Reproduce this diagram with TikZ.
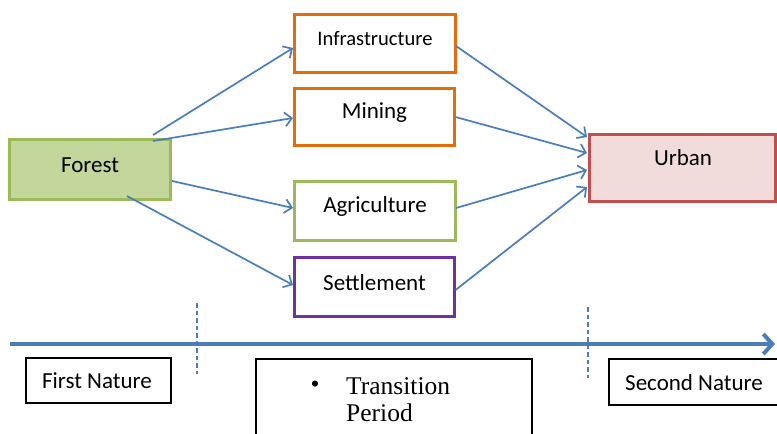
\documentclass[tikz,border=0pt]{standalone}
\usepackage{fontspec}
\setmainfont{Carlito}
\newfontfamily\timesf{Liberation Serif}
\usetikzlibrary{arrows.meta,calc}
\definecolor{lineblue}{HTML}{4A7EBB}
\definecolor{forestfill}{HTML}{C3D69B}
\definecolor{forestdraw}{HTML}{9BBB59}
\definecolor{orangedraw}{HTML}{E46C0A}
\definecolor{purpledraw}{HTML}{7030A0}
\definecolor{urbanfill}{HTML}{F2DCDB}
\definecolor{urbandraw}{HTML}{C0504D}
\tikzset{
  box/.style={rectangle, line width=3pt, inner sep=0pt, fill=white},
  lbl/.style={inner sep=0pt, font=\fontsize{23}{27}\selectfont},
  conn/.style={draw=lineblue, line width=1.7pt, -{Straight Barb[length=7pt,width=14pt,line width=1.7pt]}},
  tick/.style={draw=lineblue, line width=1.3pt, dash pattern=on 4.5pt off 3pt},
  plain/.style={rectangle, draw=black, line width=1.2pt, inner sep=0pt, fill=white}
}
\begin{document}
\begin{tikzpicture}[x=1pt,y=-1pt]
\useasboundingbox (0,0) rectangle (777,434);
\clip (0,0) rectangle (777,434);
% boxes
\node[box, draw=forestdraw, fill=forestfill, minimum width=161pt, minimum height=60pt] (forest) at (90,169.5) {};
\node[lbl] (forestt) at (90,165) {Forest};
\node[box, draw=orangedraw, minimum width=161pt, minimum height=58pt] (infra) at (375,43.5) {};
\node[lbl, font=\fontsize{20.6}{24}\selectfont] (infrat) at (375,39) {Infrastructure};
\node[box, draw=orangedraw, minimum width=160pt, minimum height=57pt] (mining) at (374.5,117) {};
\node[lbl] (miningt) at (374.5,113) {Mining};
\node[box, draw=forestdraw, minimum width=161pt, minimum height=59pt] (agri) at (375,211) {};
\node[lbl] (agrit) at (375,206.5) {Agriculture};
\node[box, draw=purpledraw, minimum width=160pt, minimum height=59pt] (settle) at (374.5,287) {};
\node[lbl] (settlet) at (374.5,282.5) {Settlement};
\node[box, draw=urbandraw, fill=urbanfill, minimum width=186pt, minimum height=67pt] (urban) at (682,168) {};
\node[lbl] (urbant) at (683,158) {Urban};
% connectors forest -> sectors
\draw[conn] ($(forest.center)+(63,-34.5)$) -- ($(infra.center)+(-82,4.5)$);
\draw[conn] ($(forest.center)+(63,-28.5)$) -- ($(mining.center)+(-81.5,1)$);
\draw[conn] ($(forest.center)+(82,11.5)$) -- ($(agri.center)+(-82,-3)$);
\draw[conn] ($(forest.center)+(37,26.5)$) -- ($(settle.center)+(-81.5,-2)$);
% sectors -> urban
\draw[conn] ($(infra.center)+(81,2.5)$) -- ($(urban.center)+(-95,-31)$);
\draw[conn] ($(mining.center)+(81,0)$) -- ($(urban.center)+(-95,-15)$);
\draw[conn] ($(agri.center)+(81,-3)$) -- ($(urban.center)+(-95,2)$);
\draw[conn] ($(settle.center)+(81,3)$) -- ($(urban.center)+(-95,19)$);
% timeline
\coordinate (tl0) at (10,344);
\coordinate (tl1) at (775,344);
\draw[draw=lineblue, line width=4pt, -{Straight Barb[length=9pt,width=20pt,line width=4pt]}] (tl0) -- (tl1);
\coordinate (d1a) at (197,303);
\coordinate (d1b) at (197,374);
\coordinate (d2a) at (588,307);
\coordinate (d2b) at (588,378);
\draw[tick] (d1a) -- (d1b);
\draw[tick] (d2a) -- (d2b);
% bottom boxes
\node[plain, minimum width=145pt, minimum height=45pt] (first) at (98.5,380.5) {};
\node[lbl] (firstt) at (97,381) {First Nature};
\node[plain, minimum width=276pt, minimum height=100pt] (trans) at (394,409) {};
\node[inner sep=0pt, font=\timesf\fontsize{25.5}{27}\selectfont] (bullet) at (315,387) {\textbullet};
\node[inner sep=0pt, anchor=west, align=left, font=\timesf\fontsize{25.5}{27}\selectfont] (transt) at (346,400) {Transition\\Period};
\node[plain, minimum width=180pt, minimum height=46pt] (second) at (699,382) {};
\node[lbl, anchor=west] (secondt) at (625,383) {Second Nature};
\end{tikzpicture}
\end{document}
